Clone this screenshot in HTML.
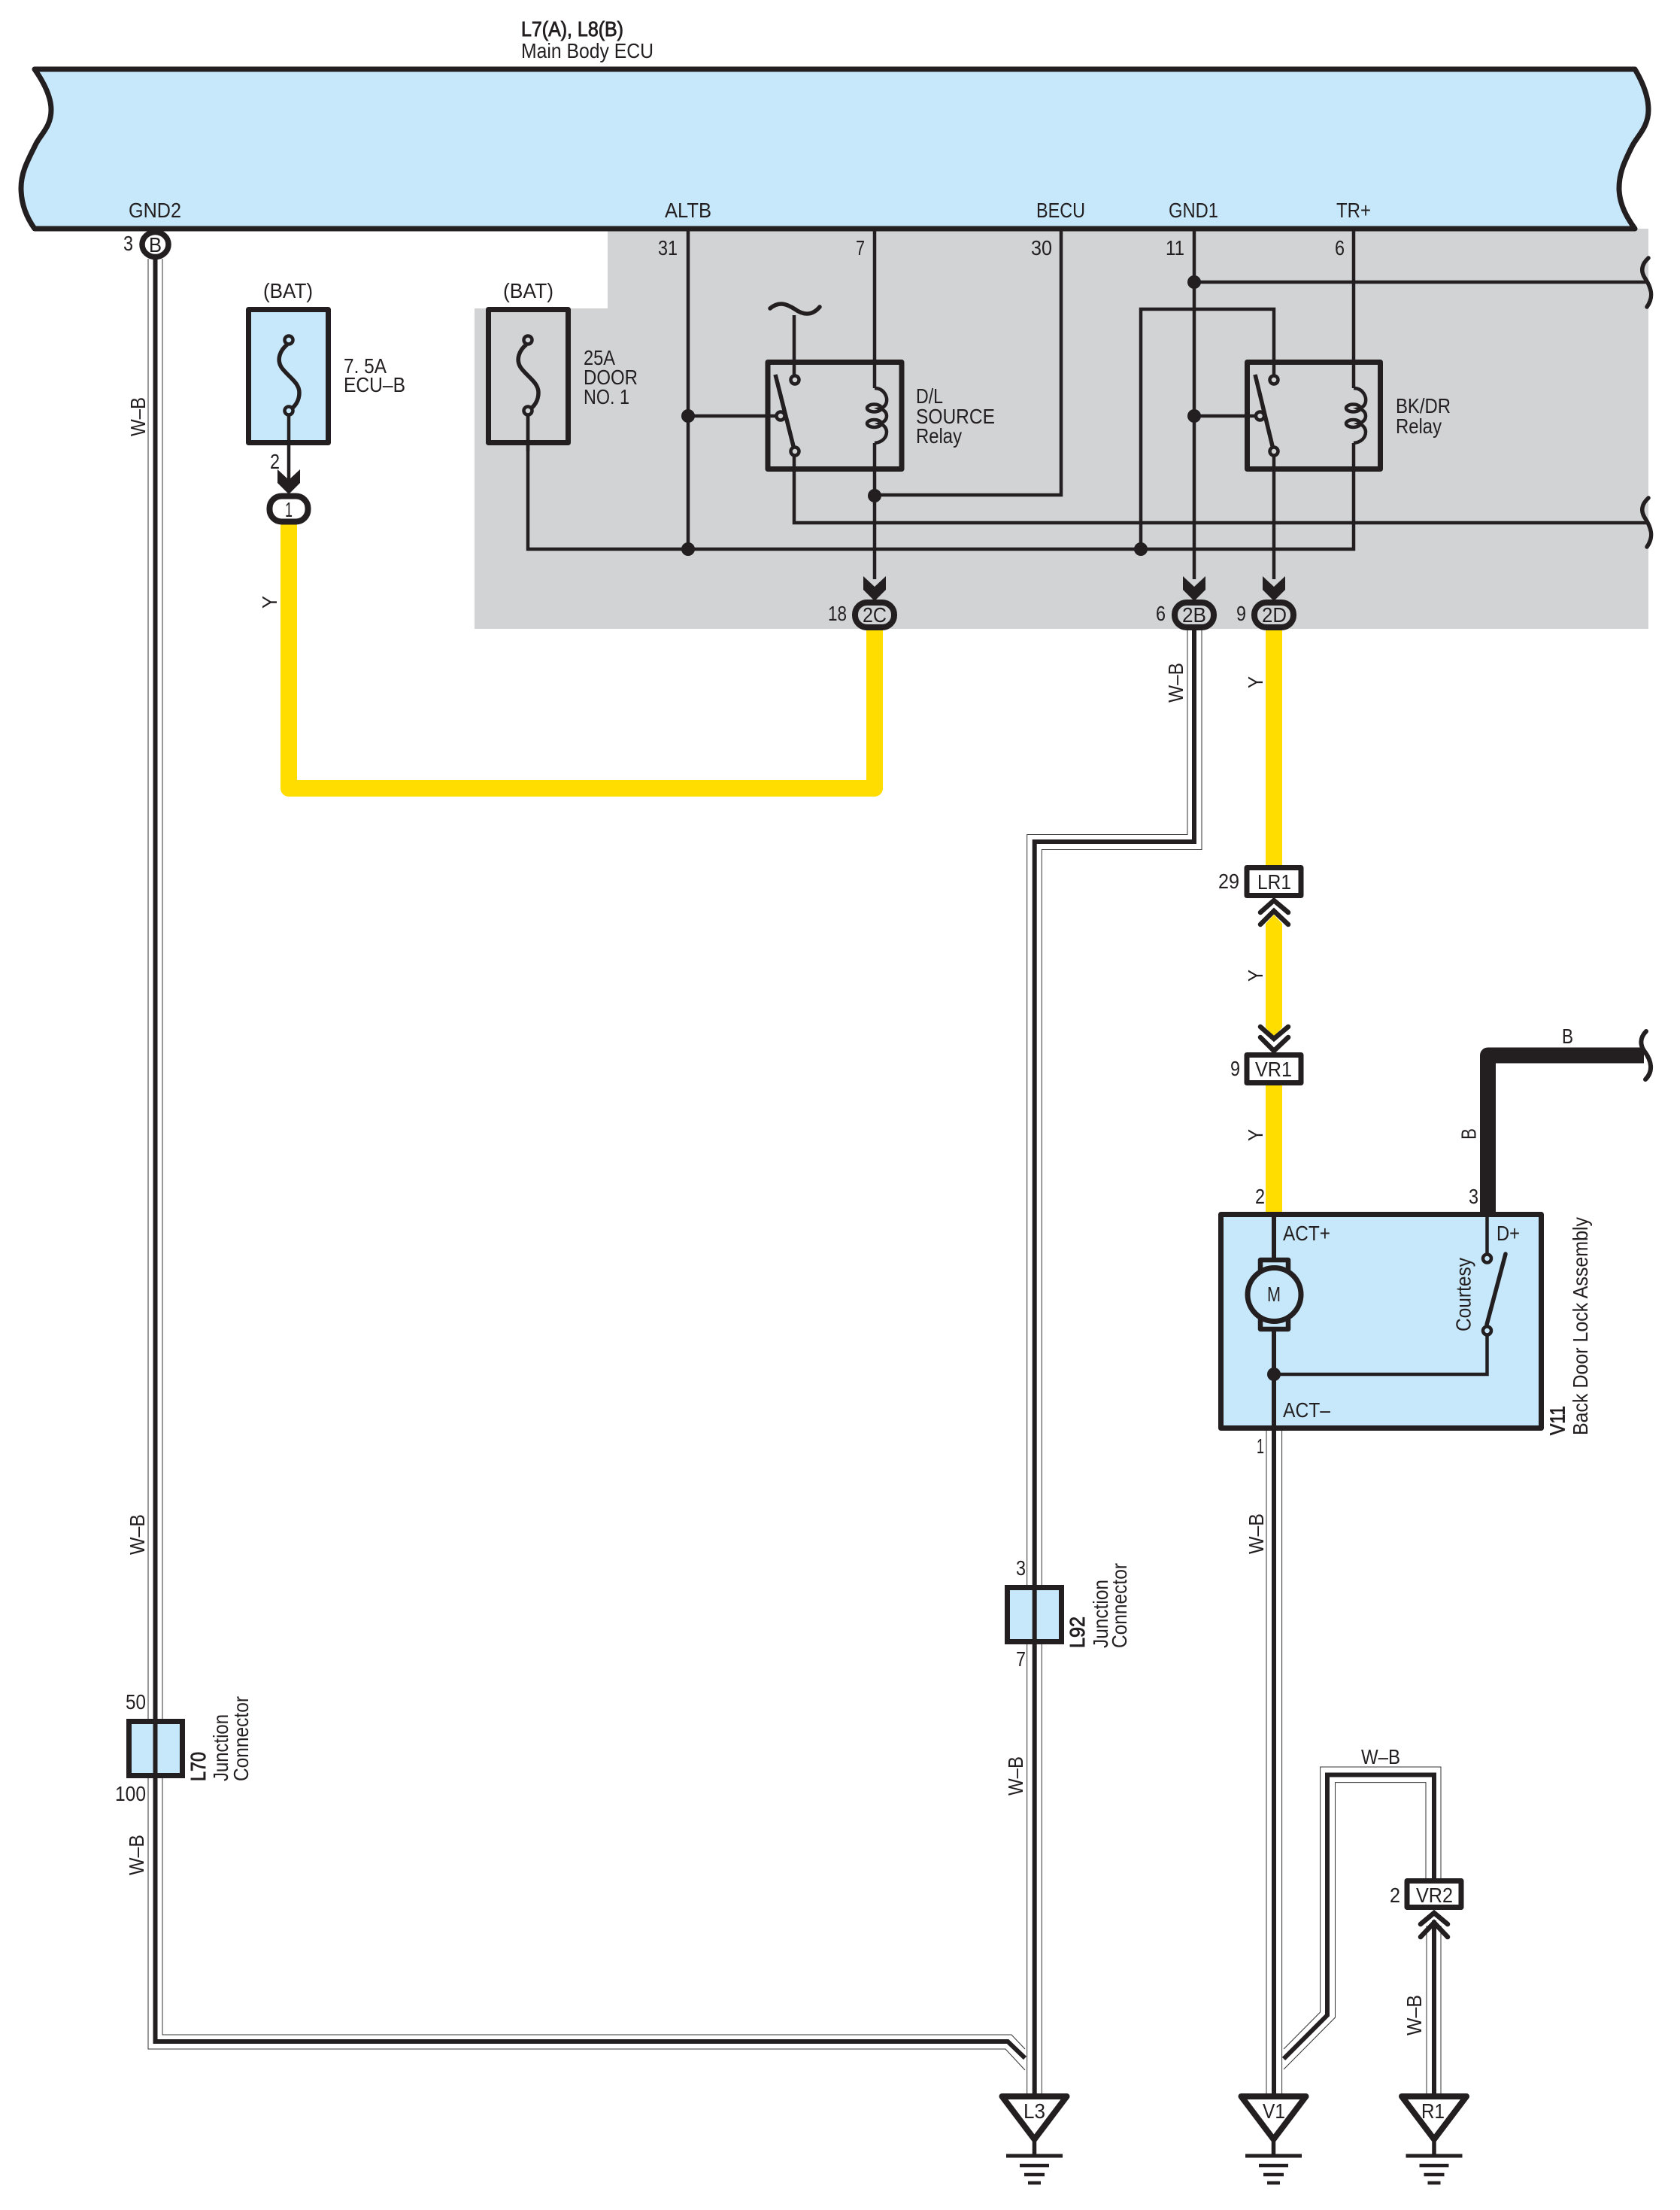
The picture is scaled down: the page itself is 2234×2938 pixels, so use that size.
<!DOCTYPE html>
<html><head><meta charset="utf-8"><style>
html,body{margin:0;padding:0;background:#fff}
svg{display:block}
text{font-family:"Liberation Sans",sans-serif;font-size:28px;fill:#231f20}
.b{stroke:#231f20;stroke-width:.9}
.w{fill:none;stroke:#231f20;stroke-width:4.5;stroke-linejoin:miter}
.k{fill:none;stroke:#231f20;stroke-width:6;stroke-linejoin:miter}
.t{fill:none;stroke:#333;stroke-width:1}
.y{fill:none;stroke:#ffdd00;stroke-width:22;stroke-linejoin:round}
.d{fill:#231f20}
.r{stroke:#231f20;stroke-width:7;fill:none;stroke-linejoin:round}
</style></head><body>
<svg xmlns="http://www.w3.org/2000/svg" width="2234" height="2938" viewBox="0 0 2234 2938">
<defs>
<polygon id="arr" points="-15,0 0,14 15,0 15,18 0,33 -15,18" fill="#231f20"/>
<g id="coil">
<path class="w" d="M1163 516C1176 516 1180 528 1179 534C1178 540 1174 542 1170 543C1176 545 1179 548 1179 553C1179 558 1176 561 1170 563C1176 565 1179 570 1179 574C1179 582 1173 588 1163 589"/>
<ellipse cx="1162.5" cy="542.5" rx="9.5" ry="5" fill="none" stroke="#231f20" stroke-width="4.5"/>
<ellipse cx="1162.5" cy="563" rx="9.5" ry="5" fill="none" stroke="#231f20" stroke-width="4.5"/>
</g>
<g id="gnd" stroke="#231f20" fill="none">
<polygon points="-43,2787 43,2787 0,2844" fill="#fff" stroke-width="8" stroke-linejoin="round"/>
<path d="M0 2845V2866" stroke-width="5.5"/>
<path d="M-37.5 2866H37.5" stroke-width="5"/>
<path d="M-19.5 2879H19.5" stroke-width="4.5"/>
<path d="M-13.5 2891H13.5" stroke-width="4.5"/>
<path d="M-8.5 2902H8.5" stroke-width="4.5"/>
</g>
</defs>

<rect width="2234" height="2938" fill="#fff"/>
<polygon points="631,410 808,410 808,304 2192,304 2192,836 631,836" fill="#d1d3d4"/>
<path d="M46 92H2174C2186 112 2192 130 2192 146C2192 170 2176 182 2170 195C2160 215 2153 230 2153 250C2153 272 2164 290 2174 304H46C36 290 28 272 28 250C28 230 36 215 46 195C52 180 68 170 68 146C68 130 60 112 46 92Z" fill="#c7e8fa" stroke="#231f20" stroke-width="7" stroke-linejoin="round"/>

<!-- yellow wires -->
<path class="y" d="M384 697V1048H1163V838"/>
<path d="M1683 838H1705V1151H1683Z" fill="#ffdd00"/>
<path d="M1683 1228L1694 1216L1705 1228V1366L1694 1378L1683 1366Z" fill="#ffdd00"/>
<path d="M1683 1442H1705V1614H1683Z" fill="#ffdd00"/>

<!-- W-B wires -->
<path class="t" d="M197 344V2724H1337L1363 2752"/>
<path class="t" d="M216 344V2705H1345L1363 2724"/>
<path class="k" d="M206.5 340V2714H1340L1363 2736"/>
<path class="t" d="M1579 838V1109.5H1365.7V2783"/>
<path class="t" d="M1598 838V1129.5H1385.3V2783"/>
<path class="k" d="M1588 838V1119H1375.7V2783"/>
<path class="t" d="M1684 1900V2783"/>
<path class="t" d="M1704.6 1900V2783"/>
<path class="k" d="M1694 1900V2783"/>
<path class="t" d="M1707 2724L1755.6 2675V2349H1916V2498"/>
<path class="t" d="M1707 2751L1775.5 2682V2369.6H1896V2498"/>
<path class="k" d="M1707 2737L1765 2679V2359.5H1907V2498"/>
<path class="t" d="M1897 2560V2783"/>
<path class="t" d="M1916 2560V2783"/>
<path class="k" d="M1907 2553V2783"/>

<!-- B wire -->
<path d="M1978.5 1614V1403H2186" fill="none" stroke="#231f20" stroke-width="21" stroke-linejoin="round"/>
<path d="M2189 1371C2180 1380 2181 1390 2187 1398C2196 1410 2199 1424 2188 1435" fill="none" stroke="#231f20" stroke-width="6" stroke-linecap="round"/>

<!-- internal wires of gray zone -->
<path class="w" d="M915 304V730"/>
<path class="w" d="M702 546V730H1800V304"/>
<path class="w" d="M1163 304V770"/>
<path class="w" d="M1411 304V658H1163"/>
<path class="w" d="M1588 304V770"/>
<path class="w" d="M1588 375H2190"/>
<path class="w" d="M1056 600V695H2190"/>
<path class="w" d="M1694 600V770"/>
<path class="w" d="M1694 505V411H1517V730"/>
<path class="w" d="M1056 505V419"/>
<path class="w" d="M915 553H1038"/>
<path class="w" d="M1588 553H1675"/>
<path d="M1024 410C1036 400 1046 404 1057 411C1068 419 1080 420 1090 408" fill="none" stroke="#231f20" stroke-width="5.5" stroke-linecap="round"/>
<path d="M2192 343C2182 352 2182 361 2187 369C2195 381 2200 394 2190 408" fill="none" stroke="#231f20" stroke-width="5.5" stroke-linecap="round"/>
<path d="M2192 662C2182 671 2182 680 2187 688C2195 700 2200 713 2190 727" fill="none" stroke="#231f20" stroke-width="5.5" stroke-linecap="round"/>

<!-- relays -->
<rect class="r" x="1021" y="481.5" width="178" height="142"/>
<rect class="r" x="1658.5" y="481.5" width="177" height="142"/>
<path d="M1163 516V589" stroke="#d1d3d4" stroke-width="6" fill="none"/>
<path d="M1800 516V589" stroke="#d1d3d4" stroke-width="6" fill="none"/>
<use href="#coil"/>
<use href="#coil" transform="translate(637,0)"/>
<path d="M1031 498L1056 597" stroke="#231f20" stroke-width="5.5" fill="none"/>
<path d="M1669 498L1693 597" stroke="#231f20" stroke-width="5.5" fill="none"/>
<g fill="#d1d3d4" stroke="#231f20" stroke-width="4.5">
<circle cx="1057" cy="505" r="5.5"/><circle cx="1057" cy="600" r="5.5"/><circle cx="1038" cy="553" r="5.5"/>
<circle cx="1694" cy="505" r="5.5"/><circle cx="1694" cy="600" r="5.5"/><circle cx="1675.5" cy="553" r="5.5"/>
</g>
<g class="d">
<circle cx="915" cy="553" r="9"/><circle cx="915" cy="730" r="9"/><circle cx="1163" cy="659" r="9"/>
<circle cx="1588" cy="375" r="9"/><circle cx="1588" cy="553" r="9"/><circle cx="1517" cy="730" r="9"/>
</g>

<!-- fuses -->
<rect x="330.5" y="411.5" width="106" height="177" fill="#c7e8fa" stroke="#231f20" stroke-width="7" stroke-linejoin="round"/>
<rect x="649.5" y="411.5" width="106" height="177" fill="none" stroke="#231f20" stroke-width="7" stroke-linejoin="round"/>
<path class="w" d="M384 546V640"/>
<path class="w" d="M702 546V600"/>
<path d="M382 458C372 466 368 478 374 488C382 500 398 508 398 522C398 533 392 541 384 546" fill="none" stroke="#231f20" stroke-width="5.5"/>
<path d="M700 458C690 466 686 478 692 488C700 500 716 508 716 522C716 533 710 541 702 546" fill="none" stroke="#231f20" stroke-width="5.5"/>
<g stroke="#231f20" stroke-width="4.5">
<circle cx="384" cy="452" r="5.5" fill="#c7e8fa"/><circle cx="384" cy="546" r="5.5" fill="#c7e8fa"/>
<circle cx="702" cy="452" r="5.5" fill="#d1d3d4"/><circle cx="702" cy="546" r="5.5" fill="#d1d3d4"/>
</g>

<!-- arrows & connectors -->
<use href="#arr" transform="translate(384,624)"/>
<use href="#arr" transform="translate(1163,766)"/>
<use href="#arr" transform="translate(1588,766)"/>
<use href="#arr" transform="translate(1694,766)"/>
<rect x="358.5" y="659.5" width="51" height="34" rx="16" fill="#fff" stroke="#231f20" stroke-width="8"/>
<rect x="1137" y="801" width="52" height="33" rx="16" fill="#d1d3d4" stroke="#231f20" stroke-width="8"/>
<rect x="1562" y="801" width="52" height="33" rx="16" fill="#d1d3d4" stroke="#231f20" stroke-width="8"/>
<rect x="1668" y="801" width="52" height="33" rx="16" fill="#d1d3d4" stroke="#231f20" stroke-width="8"/>
<ellipse cx="206.5" cy="325" rx="17.5" ry="16.5" fill="#fff" stroke="#231f20" stroke-width="7.5"/>

<rect x="1658" y="1153.5" width="72" height="37" fill="#fff" stroke="#231f20" stroke-width="7" stroke-linejoin="round"/>
<rect x="1658" y="1402.5" width="72" height="37" fill="#fff" stroke="#231f20" stroke-width="7" stroke-linejoin="round"/>
<rect x="1871" y="2500.5" width="72" height="35" fill="#fff" stroke="#231f20" stroke-width="7" stroke-linejoin="round"/>
<g fill="none" stroke="#231f20" stroke-width="6.5" stroke-linecap="round">
<path d="M1676 1213L1694 1197L1713 1213"/><path d="M1676 1229L1694 1211L1713 1229"/>
<path d="M1676 1365L1694 1381L1713 1365"/><path d="M1676 1379L1694 1397L1713 1379"/>
<path d="M1889 2558L1907 2543L1925 2558"/><path d="M1889 2575L1907 2556L1925 2575"/>
</g>

<!-- component -->
<rect x="1623.5" y="1614.5" width="426" height="284" fill="#c7e8fa" stroke="#231f20" stroke-width="7" stroke-linejoin="round"/>
<path class="k" d="M1694 1616V1900"/>
<rect x="1676" y="1675" width="37" height="92" fill="#c7e8fa" stroke="#231f20" stroke-width="6.5" stroke-linejoin="round"/>
<circle cx="1694.5" cy="1721" r="35.5" fill="#c7e8fa" stroke="#231f20" stroke-width="7"/>
<circle cx="1694" cy="1827" r="9" class="d"/>
<path class="w" d="M1694 1827H1977.5V1769"/>
<path class="w" d="M1977.5 1616V1673"/>
<path d="M1977 1761L2002 1667" stroke="#231f20" stroke-width="5.5" stroke-linecap="round"/>
<circle cx="1977.5" cy="1673" r="5.5" fill="#c7e8fa" stroke="#231f20" stroke-width="4.5"/>
<circle cx="1977.5" cy="1769" r="5.5" fill="#c7e8fa" stroke="#231f20" stroke-width="4.5"/>

<!-- junction boxes -->
<rect x="171.5" y="2288.5" width="71" height="72" fill="#c7e8fa" stroke="#231f20" stroke-width="7"/>
<path class="k" d="M206.5 2287V2362"/>
<rect x="1339.5" y="2110.5" width="72" height="72" fill="#c7e8fa" stroke="#231f20" stroke-width="7"/>
<path class="k" d="M1375.7 2109V2184"/>

<!-- grounds -->
<use href="#gnd" transform="translate(1375.5,0)"/>
<use href="#gnd" transform="translate(1693.5,0)"/>
<use href="#gnd" transform="translate(1907,0)"/>

<!-- horizontal text -->
<text class="b" x="693" y="48" textLength="136" lengthAdjust="spacingAndGlyphs">L7(A), L8(B)</text>
<text x="693" y="77" textLength="176" lengthAdjust="spacingAndGlyphs">Main Body ECU</text>
<text x="171" y="289" textLength="70" lengthAdjust="spacingAndGlyphs">GND2</text>
<text x="884" y="289" textLength="62" lengthAdjust="spacingAndGlyphs">ALTB</text>
<text x="1378" y="289" textLength="65" lengthAdjust="spacingAndGlyphs">BECU</text>
<text x="1554" y="289" textLength="66" lengthAdjust="spacingAndGlyphs">GND1</text>
<text x="1777" y="289" textLength="46" lengthAdjust="spacingAndGlyphs">TR+</text>
<text x="164" y="333" textLength="13" lengthAdjust="spacingAndGlyphs">3</text>
<text x="198" y="335" textLength="17" lengthAdjust="spacingAndGlyphs">B</text>
<text x="875" y="339" textLength="26" lengthAdjust="spacingAndGlyphs">31</text>
<text x="1138" y="339" textLength="12" lengthAdjust="spacingAndGlyphs">7</text>
<text x="1371" y="339" textLength="28" lengthAdjust="spacingAndGlyphs">30</text>
<text x="1550" y="339" textLength="25" lengthAdjust="spacingAndGlyphs">11</text>
<text x="1775" y="339" textLength="13" lengthAdjust="spacingAndGlyphs">6</text>
<text x="350" y="396" textLength="66" lengthAdjust="spacingAndGlyphs">(BAT)</text>
<text x="669" y="396" textLength="67" lengthAdjust="spacingAndGlyphs">(BAT)</text>
<text x="457" y="496" textLength="57" lengthAdjust="spacingAndGlyphs">7. 5A</text>
<text x="457" y="521" textLength="82" lengthAdjust="spacingAndGlyphs">ECU–B</text>
<text x="776" y="485" textLength="42" lengthAdjust="spacingAndGlyphs">25A</text>
<text x="776" y="511" textLength="72" lengthAdjust="spacingAndGlyphs">DOOR</text>
<text x="776" y="537" textLength="61" lengthAdjust="spacingAndGlyphs">NO. 1</text>
<text x="1218" y="536" textLength="36" lengthAdjust="spacingAndGlyphs">D/L</text>
<text x="1218" y="563" textLength="105" lengthAdjust="spacingAndGlyphs">SOURCE</text>
<text x="1218" y="589" textLength="61" lengthAdjust="spacingAndGlyphs">Relay</text>
<text x="1856" y="549" textLength="73" lengthAdjust="spacingAndGlyphs">BK/DR</text>
<text x="1856" y="576" textLength="61" lengthAdjust="spacingAndGlyphs">Relay</text>
<text x="359" y="623" textLength="13" lengthAdjust="spacingAndGlyphs">2</text>
<text x="379" y="687" textLength="10" lengthAdjust="spacingAndGlyphs">1</text>
<text x="1101" y="825" textLength="25" lengthAdjust="spacingAndGlyphs">18</text>
<text x="1147" y="827" textLength="32" lengthAdjust="spacingAndGlyphs">2C</text>
<text x="1537" y="825" textLength="13" lengthAdjust="spacingAndGlyphs">6</text>
<text x="1572" y="827" textLength="32" lengthAdjust="spacingAndGlyphs">2B</text>
<text x="1644" y="825" textLength="13" lengthAdjust="spacingAndGlyphs">9</text>
<text x="1678" y="827" textLength="33" lengthAdjust="spacingAndGlyphs">2D</text>
<text x="1620" y="1181" textLength="28" lengthAdjust="spacingAndGlyphs">29</text>
<text x="1672" y="1182" textLength="45" lengthAdjust="spacingAndGlyphs">LR1</text>
<text x="1636" y="1430" textLength="13" lengthAdjust="spacingAndGlyphs">9</text>
<text x="1669" y="1431" textLength="49" lengthAdjust="spacingAndGlyphs">VR1</text>
<text x="2077" y="1387" textLength="15" lengthAdjust="spacingAndGlyphs">B</text>
<text x="1669" y="1600" textLength="13" lengthAdjust="spacingAndGlyphs">2</text>
<text x="1953" y="1600" textLength="13" lengthAdjust="spacingAndGlyphs">3</text>
<text x="1706" y="1649" textLength="63" lengthAdjust="spacingAndGlyphs">ACT+</text>
<text x="1990" y="1649" textLength="31" lengthAdjust="spacingAndGlyphs">D+</text>
<text x="1685" y="1730" textLength="18" lengthAdjust="spacingAndGlyphs">M</text>
<text x="1706" y="1884" textLength="63" lengthAdjust="spacingAndGlyphs">ACT–</text>
<text x="1671" y="1932" textLength="10" lengthAdjust="spacingAndGlyphs">1</text>
<text x="1351" y="2094" textLength="13" lengthAdjust="spacingAndGlyphs">3</text>
<text x="1351" y="2215" textLength="13" lengthAdjust="spacingAndGlyphs">7</text>
<text x="167" y="2272" textLength="27" lengthAdjust="spacingAndGlyphs">50</text>
<text x="153" y="2394" textLength="41" lengthAdjust="spacingAndGlyphs">100</text>
<text x="1810" y="2345" textLength="52" lengthAdjust="spacingAndGlyphs">W–B</text>
<text x="1848" y="2529" textLength="14" lengthAdjust="spacingAndGlyphs">2</text>
<text x="1883" y="2529" textLength="49" lengthAdjust="spacingAndGlyphs">VR2</text>
<text x="1361" y="2816" textLength="29" lengthAdjust="spacingAndGlyphs">L3</text>
<text x="1679" y="2816" textLength="30" lengthAdjust="spacingAndGlyphs">V1</text>
<text x="1890" y="2816" textLength="31" lengthAdjust="spacingAndGlyphs">R1</text>

<!-- rotated text -->
<text transform="translate(193,580) rotate(-90)" textLength="52" lengthAdjust="spacingAndGlyphs">W–B</text>
<text transform="translate(192,2067) rotate(-90)" textLength="54" lengthAdjust="spacingAndGlyphs">W–B</text>
<text transform="translate(191,2493) rotate(-90)" textLength="54" lengthAdjust="spacingAndGlyphs">W–B</text>
<text transform="translate(1573,934) rotate(-90)" textLength="53" lengthAdjust="spacingAndGlyphs">W–B</text>
<text transform="translate(1360,2387) rotate(-90)" textLength="52" lengthAdjust="spacingAndGlyphs">W–B</text>
<text transform="translate(1680,2066) rotate(-90)" textLength="54" lengthAdjust="spacingAndGlyphs">W–B</text>
<text transform="translate(1890,2706) rotate(-90)" textLength="54" lengthAdjust="spacingAndGlyphs">W–B</text>
<text transform="translate(368,809) rotate(-90)" textLength="17" lengthAdjust="spacingAndGlyphs">Y</text>
<text transform="translate(1679,915) rotate(-90)" textLength="16" lengthAdjust="spacingAndGlyphs">Y</text>
<text transform="translate(1679,1305) rotate(-90)" textLength="16" lengthAdjust="spacingAndGlyphs">Y</text>
<text transform="translate(1679,1517) rotate(-90)" textLength="16" lengthAdjust="spacingAndGlyphs">Y</text>
<text transform="translate(1962.5,1515) rotate(-90)" textLength="15" lengthAdjust="spacingAndGlyphs">B</text>
<text transform="translate(1955.5,1770) rotate(-90)" textLength="98" lengthAdjust="spacingAndGlyphs">Courtesy</text>
<text class="b" transform="translate(2080.5,1908) rotate(-90)" textLength="39" lengthAdjust="spacingAndGlyphs">V11</text>
<text transform="translate(2111,1908) rotate(-90)" textLength="290" lengthAdjust="spacingAndGlyphs">Back Door Lock Assembly</text>
<text class="b" transform="translate(1442,2191) rotate(-90)" textLength="42" lengthAdjust="spacingAndGlyphs">L92</text>
<text transform="translate(1473,2191) rotate(-90)" textLength="91" lengthAdjust="spacingAndGlyphs">Junction</text>
<text transform="translate(1498,2191) rotate(-90)" textLength="113" lengthAdjust="spacingAndGlyphs">Connector</text>
<text class="b" transform="translate(273,2368) rotate(-90)" textLength="39" lengthAdjust="spacingAndGlyphs">L70</text>
<text transform="translate(303,2368) rotate(-90)" textLength="89" lengthAdjust="spacingAndGlyphs">Junction</text>
<text transform="translate(330,2368) rotate(-90)" textLength="113" lengthAdjust="spacingAndGlyphs">Connector</text>
</svg>
</body></html>
